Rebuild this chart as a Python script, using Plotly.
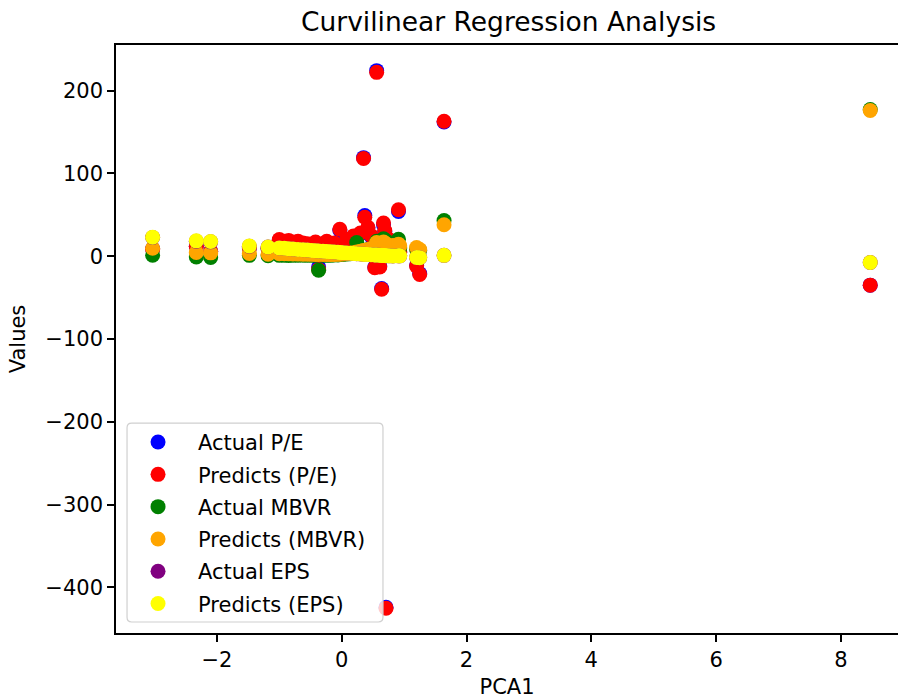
import plotly.graph_objects as go

# ---- data ----
pca1 = [-3.03, -2.33, -2.10, -1.48, -1.18, -1.00, -0.92, -0.85, -0.78, -0.70,
        -0.62, -0.55, -0.48, -0.42, -0.37, -0.30, -0.24, -0.18, -0.12, -0.06,
        -0.03, 0.02, 0.08, 0.14, 0.19, 0.24, 0.30, 0.35, 0.37, 0.42,
        0.47, 0.53, 0.56, 0.61, 0.64, 0.67, 0.69, 0.71, 0.76, 0.82,
        0.91, 0.93, 1.20, 1.25, 1.64, 8.47]

pe_actual = [9, 12, 6, 10, 9, 19, 17, 18, 16, 17,
             15, 14, 13, 16, -13, 14, 17, 13, 15, 11,
             31, 12, 19, 17, 23, 21, 27, 119, 49, 34,
             24, -13, 224, -12, -39, 38, 30, -424, 19, 14,
             54, 5, -11, -21, 162, -35]
pe_pred = [8, 12, 6, 10, 9, 20, 18, 19, 17, 18,
           16, 15, 14, 17, -16, 15, 18, 14, 16, 12,
           32.5, 13, 20, 18, 24.5, 22, 28, 118, 47, 35,
           25, -14, 222, -13, -40, 40, 31, -425, 20, 15,
           56, 5, -12, -22, 163, -35]

mbvr_actual = [1.2, -1, -1.5, 1, 0.5, 1, 1, 0.8, 1, 1,
               1.2, 1, 1.1, 1, -17, 1, 1.2, 1, 1.4, 1.5,
               2, 2, 2.5, 3, 4, 16.5, 5, 6, 6, 8,
               9, 10, 18, 10, 9, 21, 12, 18.5, 11, 12,
               20.5, 10, 8, 7, 43, 177]
mbvr_pred = [9.6, 4.4, 4, 3.3, 2.4, 3, 3, 2.8, 2.6, 2.5,
             2.4, 2.3, 2.2, 2.1, 2, 2, 2, 1.9, 2, 2.2,
             2.5, 2.6, 3, 3.5, 4, 5, 6, 7, 7, 8,
             9, 10, 16.5, 12, 11, 17, 13, 15, 12, 13,
             14.5, 12.4, 10.5, 8, 38, 176]

eps_actual = [22.5, 18, 17.3, 12, 11, 10, 9.5, 9, 8.6, 8.2,
              7.8, 7.4, 7, 6.7, 6.4, 6, 5.7, 5.4, 5, 4.7,
              4.5, 4.2, 3.9, 3.6, 3.3, 3, 2.7, 2.4, 2.3, 2,
              1.8, 1.5, 1.3, 1.1, 0.9, 0.8, 0.7, 0.6, 0.4, 0.2,
              0.4, 0.4, -1.6, -1.8, 1, -7.6]
eps_pred = [23, 18.5, 17.7, 12.4, 11, 10, 9.5, 9, 8.6, 8.2,
            7.8, 7.4, 7, 6.7, 6.4, 6, 5.7, 5.4, 5, 4.7,
            4.5, 4.2, 3.9, 3.6, 3.3, 3, 2.7, 2.4, 2.3, 2,
            1.8, 1.5, 1.3, 1.1, 0.9, 0.8, 0.7, 0.6, 0.4, 0.2,
            0.4, 0.4, -1.6, -1.8, 1, -7.6]

series_names = ["Actual P/E", "Predicts (P/E)", "Actual MBVR",
                "Predicts (MBVR)", "Actual EPS", "Predicts (EPS)"]
series_values = [pe_actual, pe_pred, mbvr_actual, mbvr_pred, eps_actual, eps_pred]
series_colors = ["#0000ff", "#ff0000", "#008000", "#ffa500", "#800080", "#ffff00"]

x_ticks = [-2, 0, 2, 4, 6, 8]
y_ticks = [-400, -300, -200, -100, 0, 100, 200]

FONT = "DejaVu Sans"

fig = go.Figure()
for i, (name, vals, color) in enumerate(zip(series_names, series_values, series_colors)):
    fig.add_trace(go.Scatter(
        x=pca1, y=vals, mode="markers", name=name,
        legendgroup=f"g{i}",
        marker=dict(color=color, size=15, line=dict(width=0)),
    ))

# legend frame (rounded, semi-transparent like matplotlib)
x0, x1, y0, y1 = 0.0141, 0.3414, 0.0187, 0.357
rx, ry = 0.006, 0.008
path = (f"M {x0+rx},{y0} L {x1-rx},{y0} Q {x1},{y0} {x1},{y0+ry} "
        f"L {x1},{y1-ry} Q {x1},{y1} {x1-rx},{y1} L {x0+rx},{y1} "
        f"Q {x0},{y1} {x0},{y1-ry} L {x0},{y0+ry} Q {x0},{y0} {x0+rx},{y0} Z")
fig.add_shape(type="path", path=path, xref="paper", yref="paper",
              fillcolor="rgba(255,255,255,0.8)",
              line=dict(color="#d0d0d0", width=1.2), layer="above")

axis_common = dict(
    showgrid=False, zeroline=False, showline=True, linecolor="black",
    linewidth=1.5, ticks="outside", ticklen=7, tickwidth=1.5,
    tickcolor="black", tickfont=dict(family=FONT, size=21, color="black"),
)

fig.update_layout(
    width=898, height=699,
    margin=dict(l=116, r=0, t=45, b=66, autoexpand=False),
    paper_bgcolor="white", plot_bgcolor="white",
    font=dict(family=FONT, size=21, color="black"),
    title=dict(text="Curvilinear Regression Analysis", xref="container",
               yref="container", x=0.5663, y=1 - 22/699, xanchor="center",
               yanchor="middle", font=dict(family=FONT, size=26.5, color="black")),
    xaxis=dict(range=[-3.617, 8.915], tickvals=x_ticks, mirror=True,
               title=dict(text="PCA1", standoff=8,
                          font=dict(family=FONT, size=21, color="black")),
               **axis_common),
    yaxis=dict(range=[-455, 255], tickvals=y_ticks, mirror=False,
               title=dict(text="Values", standoff=14,
                          font=dict(family=FONT, size=21, color="black")),
               **axis_common),
    legend=dict(x=0.0026, y=0.359, xanchor="left", yanchor="top",
                bgcolor="rgba(0,0,0,0)", borderwidth=0,
                font=dict(family=FONT, size=21, color="black"),
                tracegroupgap=2, itemsizing="trace", itemwidth=70),
    showlegend=True,
)

fig.write_html("out.html")
